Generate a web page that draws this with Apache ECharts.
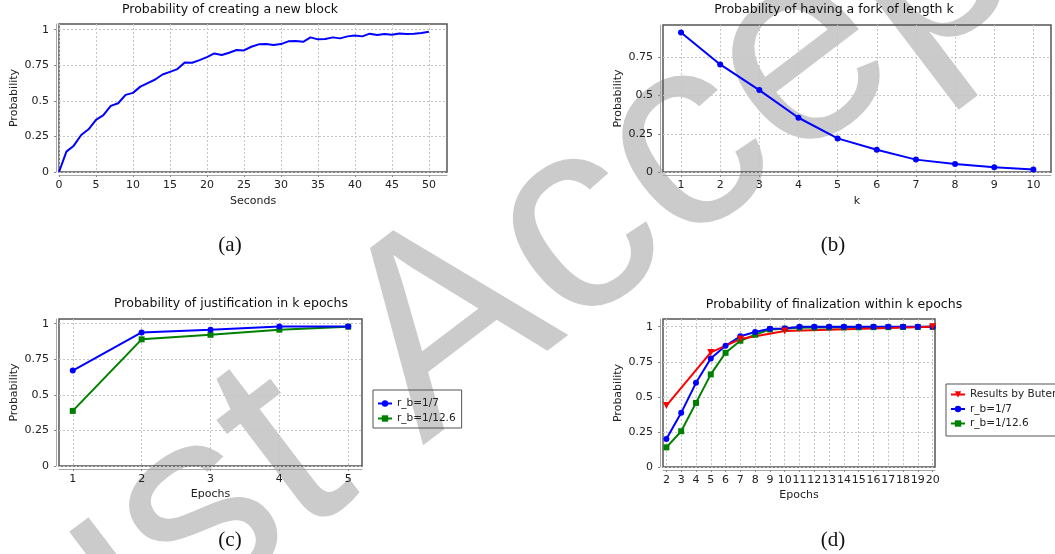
<!DOCTYPE html>
<html>
<head>
<meta charset="utf-8">
<script src="https://cdn.jsdelivr.net/npm/echarts@6/dist/echarts.min.js"></script>
<style>
  html, body { margin: 0; padding: 0; background: #fff; }
  #main { width: 1055px; height: 554px; }
</style>
</head>
<body>
<div id="main"></div>
<script>
// (a) probability of creating a new block
const seconds = [0, 1, 2, 3, 4, 5, 6, 7, 8, 9, 10, 11, 12, 13, 14, 15, 16, 17, 18, 19, 20,
  21, 22, 23, 24, 25, 26, 27, 28, 29, 30, 31, 32, 33, 34, 35, 36, 37, 38, 39, 40,
  41, 42, 43, 44, 45, 46, 47, 48, 49, 50];
const blockProb = [0, 0.143, 0.185, 0.26, 0.30, 0.366, 0.40, 0.465, 0.483, 0.542, 0.556,
  0.60, 0.625, 0.65, 0.685, 0.704, 0.723, 0.77, 0.768, 0.786, 0.807,
  0.833, 0.822, 0.838, 0.857, 0.854, 0.88, 0.897, 0.899, 0.892, 0.899,
  0.918, 0.92, 0.915, 0.946, 0.932, 0.934, 0.946, 0.939, 0.953, 0.96,
  0.953, 0.972, 0.962, 0.969, 0.965, 0.974, 0.969, 0.972, 0.977, 0.986];

// (b) probability of having a fork of length k
const forkK = [1, 2, 3, 4, 5, 6, 7, 8, 9, 10];
const forkProb = [0.913, 0.704, 0.536, 0.355, 0.22, 0.146, 0.081, 0.052, 0.031, 0.017];

// (c) probability of justification in k epochs
const justEpochs = [1, 2, 3, 4, 5];
const justRb7 = [0.671, 0.939, 0.958, 0.981, 0.981];
const justRb126 = [0.387, 0.89, 0.922, 0.958, 0.979];

// (d) probability of finalization within k epochs
const finEpochs = [2, 3, 4, 5, 6, 7, 8, 9, 10, 11, 12, 13, 14, 15, 16, 17, 18, 19, 20];
const finRb7 = [0.2, 0.386, 0.6, 0.774, 0.864, 0.932, 0.962, 0.986, 0.988,
  1.0, 1.0, 1.0, 1.0, 1.0, 1.0, 1.0, 1.0, 1.0, 1.0];
const finRb126 = [0.14, 0.255, 0.457, 0.66, 0.814, 0.9, 0.943, 0.981, 0.986,
  0.993, 0.994, 0.995, 0.995, 0.996, 0.997, 0.997, 0.998, 0.998, 0.999];
const buterinEpochs = [2, 5, 7, 10, 20];
const buterinProb = [0.438, 0.817, 0.912, 0.969, 1.0];

// tick values
const probTicks = [0, 0.25, 0.5, 0.75, 1];
const forkProbTicks = [0, 0.25, 0.5, 0.75];
const secondsTicks = [0, 5, 10, 15, 20, 25, 30, 35, 40, 45, 50];
const forkTicks = forkK;
const justTicks = justEpochs;
const finTicks = finEpochs;

const FONT = 'DejaVu Sans';
const TXT = '#222';

function zip(xs, ys) {
  return xs.map((x, i) => [x, ys[i]]);
}

function xAxisCfg(gridIndex, min, max, ticks, name, gap) {
  return {
    type: 'value', gridIndex: gridIndex, min: min, max: max,
    name: name, nameLocation: 'middle', nameGap: gap,
    nameTextStyle: { fontFamily: FONT, fontSize: 11, color: TXT },
    offset: 3,
    axisLine: { show: true, onZero: false, lineStyle: { color: '#a8a8a8', width: 1 } },
    axisTick: { show: true, length: 2, customValues: ticks, lineStyle: { color: '#888' } },
    axisLabel: { customValues: ticks, margin: 5, fontFamily: FONT, fontSize: 11, color: TXT },
    splitLine: { show: true, lineStyle: { color: '#c6c6c6', type: [2, 2], width: 1 } }
  };
}

function yAxisCfg(gridIndex, max, ticks) {
  return {
    type: 'value', gridIndex: gridIndex, min: 0, max: max,
    name: 'Probability', nameLocation: 'middle', nameGap: 36,
    nameTextStyle: { fontFamily: FONT, fontSize: 11, color: TXT },
    offset: 3,
    axisLine: { show: true, onZero: false, lineStyle: { color: '#a8a8a8', width: 1 } },
    axisTick: { show: true, length: 2, customValues: ticks, lineStyle: { color: '#888' } },
    axisLabel: { customValues: ticks, margin: 7, fontFamily: FONT, fontSize: 11, color: TXT },
    splitLine: { show: true, lineStyle: { color: '#c6c6c6', type: [2, 2], width: 1 } }
  };
}

function gridCfg(left, top, width, height) {
  return {
    left: left, top: top, width: width, height: height,
    show: true, backgroundColor: 'transparent', borderColor: '#555', borderWidth: 1.5
  };
}

function textEl(text, x, y, size, family) {
  return {
    type: 'text', x: x, y: y, z: 10,
    style: { text: text, fontSize: size, fontFamily: family, fill: '#111',
      align: 'center', verticalAlign: 'middle' }
  };
}

const legendText = { fontFamily: FONT, fontSize: 10.5, color: TXT, lineHeight: 13 };

const option = {
  animation: false,
  backgroundColor: '#fff',
  graphic: [
    {
      type: 'text', x: 602, y: 214, rotation: 0.65, z: -10, silent: true,
      style: { text: 'Just Accepted', fontSize: 275, fontFamily: 'Liberation Sans',
        fill: '#cbcbcb', align: 'center', verticalAlign: 'middle' }
    },
    textEl('Probability of creating a new block', 230, 9.5, 12.5, FONT),
    textEl('Probability of having a fork of length k', 834, 9.5, 12.5, FONT),
    textEl('Probability of justification in k epochs', 231, 304, 12.5, FONT),
    textEl('Probability of finalization within k epochs', 834, 304.5, 12.5, FONT),
    textEl('(a)', 230, 245, 21, 'Liberation Serif'),
    textEl('(b)', 833, 245, 21, 'Liberation Serif'),
    textEl('(c)', 230, 540, 21, 'Liberation Serif'),
    textEl('(d)', 833, 540, 21, 'Liberation Serif')
  ],
  grid: [
    gridCfg(59, 24, 388, 148),
    gridCfg(663, 25, 388, 147),
    gridCfg(59, 319, 303, 147),
    gridCfg(663, 319, 272, 148)
  ],
  xAxis: [
    xAxisCfg(0, 0, 52.45, secondsTicks, 'Seconds', 21),
    xAxisCfg(1, 0.54, 10.45, forkTicks, 'k', 21),
    xAxisCfg(2, 0.8, 5.2, justTicks, 'Epochs', 20),
    xAxisCfg(3, 1.77, 20.16, finTicks, 'Epochs', 20)
  ],
  yAxis: [
    yAxisCfg(0, 1.04, probTicks),
    yAxisCfg(1, 0.962, forkProbTicks),
    yAxisCfg(2, 1.033, probTicks),
    yAxisCfg(3, 1.055, probTicks)
  ],
  legend: [
    {
      data: ['r_b=1/7', 'r_b=1/12.6'],
      orient: 'vertical', left: 373, top: 390,
      padding: [7, 6, 3, 4], itemGap: 2, itemWidth: 14, itemHeight: 8,
      borderColor: '#555', borderWidth: 1, borderRadius: 0,
      textStyle: legendText
    },
    {
      data: ['Results by Buterin', 'r_b=1/7', 'r_b=1/12.6'],
      orient: 'vertical', left: 946, top: 384,
      padding: [4, 6, 6, 4], itemGap: 1.5, itemWidth: 14, itemHeight: 8,
      borderColor: '#555', borderWidth: 1, borderRadius: 0,
      textStyle: legendText
    }
  ],
  series: [
    {
      name: 'block', type: 'line', xAxisIndex: 0, yAxisIndex: 0,
      data: zip(seconds, blockProb), showSymbol: false,
      lineStyle: { color: '#0000ff', width: 2 }, itemStyle: { color: '#0000ff' }
    },
    {
      name: 'fork', type: 'line', xAxisIndex: 1, yAxisIndex: 1,
      data: zip(forkK, forkProb), symbol: 'circle', symbolSize: 6,
      lineStyle: { color: '#0000ff', width: 2 }, itemStyle: { color: '#0000ff' }
    },
    {
      name: 'r_b=1/12.6', type: 'line', xAxisIndex: 2, yAxisIndex: 2,
      data: zip(justEpochs, justRb126), symbol: 'rect', symbolSize: 6,
      lineStyle: { color: '#008000', width: 2 }, itemStyle: { color: '#008000' }
    },
    {
      name: 'r_b=1/7', type: 'line', xAxisIndex: 2, yAxisIndex: 2,
      data: zip(justEpochs, justRb7), symbol: 'circle', symbolSize: 6,
      lineStyle: { color: '#0000ff', width: 2 }, itemStyle: { color: '#0000ff' }
    },
    {
      name: 'r_b=1/12.6', type: 'line', xAxisIndex: 3, yAxisIndex: 3,
      data: zip(finEpochs, finRb126), symbol: 'rect', symbolSize: 6,
      lineStyle: { color: '#008000', width: 2 }, itemStyle: { color: '#008000' }
    },
    {
      name: 'r_b=1/7', type: 'line', xAxisIndex: 3, yAxisIndex: 3,
      data: zip(finEpochs, finRb7), symbol: 'circle', symbolSize: 6,
      lineStyle: { color: '#0000ff', width: 2 }, itemStyle: { color: '#0000ff' }
    },
    {
      name: 'Results by Buterin', type: 'line', xAxisIndex: 3, yAxisIndex: 3,
      data: zip(buterinEpochs, buterinProb), symbol: 'triangle', symbolSize: 7, symbolRotate: 180,
      lineStyle: { color: '#ff0000', width: 2 }, itemStyle: { color: '#ff0000' }
    }
  ]
};

const chart = echarts.init(document.getElementById('main'));
chart.setOption(option);
</script>
</body>
</html>
